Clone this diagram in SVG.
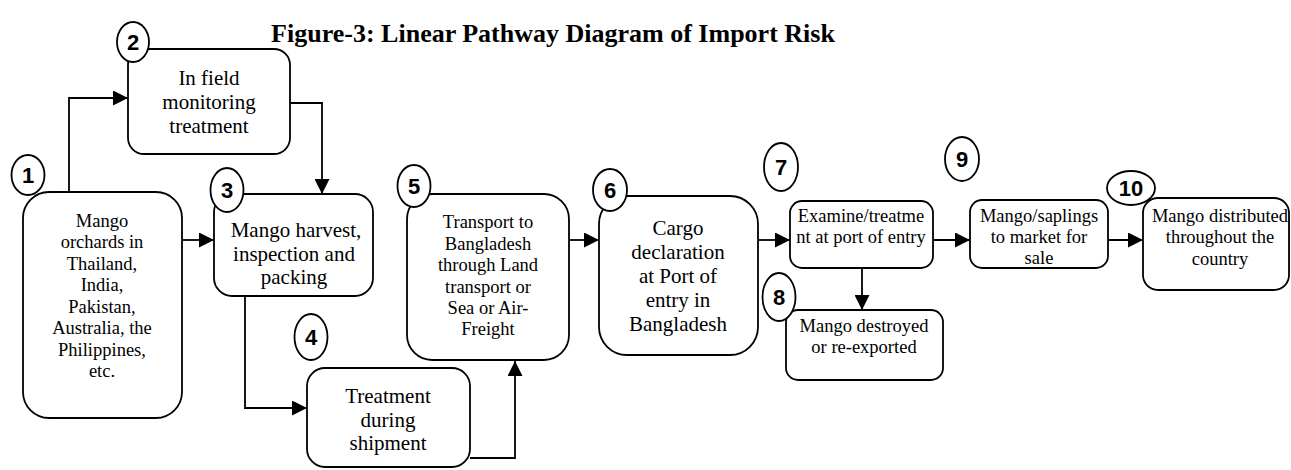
<svg xmlns="http://www.w3.org/2000/svg" width="1291" height="470" viewBox="0 0 1291 470">
<style>
.box{fill:#fff;stroke:#000;stroke-width:1.8}
.num{fill:#fff;stroke:#000;stroke-width:1.8}
.nt{font-family:'Liberation Sans',Arial,sans-serif;font-weight:bold;font-size:22px;text-anchor:middle;fill:#000}
.lbl{font-family:'Liberation Serif','Times New Roman',serif;text-anchor:middle;fill:#000}
.s18{font-size:18.5px}
.s21{font-size:21px}
.conn{fill:none;stroke:#000;stroke-width:1.8}
.title{font-family:'Liberation Serif','Times New Roman',serif;font-weight:bold;font-size:26px;text-anchor:middle;fill:#000}
</style>
<defs>
<marker id="arr" markerUnits="userSpaceOnUse" markerWidth="16" markerHeight="15" refX="15" refY="7.5" orient="auto">
<path d="M0,0 L15,7.5 L0,15 z" fill="#000"/>
</marker>
</defs>
<rect width="1291" height="470" fill="#fff"/>
<text class="title" x="553" y="42">Figure-3: Linear Pathway Diagram of Import Risk</text>

<g id="connectors">
<path class="conn" d="M69,192 V98 H128" marker-end="url(#arr)"/>
<path class="conn" d="M290,103 H322 V194" marker-end="url(#arr)"/>
<path class="conn" d="M182,240 H214" marker-end="url(#arr)"/>
<path class="conn" d="M245,296 V408 H307" marker-end="url(#arr)"/>
<path class="conn" d="M470,458 H515 V361" marker-end="url(#arr)"/>
<path class="conn" d="M569,240 H599" marker-end="url(#arr)"/>
<path class="conn" d="M758,240 H790" marker-end="url(#arr)"/>
<path class="conn" d="M862,268 V310" marker-end="url(#arr)"/>
<path class="conn" d="M933,240 H970" marker-end="url(#arr)"/>
<path class="conn" d="M1108,240 H1143" marker-end="url(#arr)"/>
</g>

<g id="node1" font-family="Liberation Serif, serif">
<rect class="box" x="23" y="192" width="159" height="226" rx="26"/>
<text class="lbl s18" x="102" y="227">Mango</text>
<text class="lbl s18" x="102" y="248">orchards in</text>
<text class="lbl s18" x="102" y="270">Thailand,</text>
<text class="lbl s18" x="102" y="291">India,</text>
<text class="lbl s18" x="102" y="313">Pakistan,</text>
<text class="lbl s18" x="102" y="334">Australia, the</text>
<text class="lbl s18" x="102" y="356">Philippines,</text>
<text class="lbl s18" x="102" y="377">etc.</text>
<ellipse class="num" cx="28" cy="175" rx="16.5" ry="20"/>
<text class="nt" x="28" y="183">1</text>
</g>

<g id="node2" font-family="Liberation Serif, serif">
<rect class="box" x="128" y="49" width="162" height="105" rx="16"/>
<text class="lbl s21" x="209" y="85">In field</text>
<text class="lbl s21" x="209" y="109">monitoring</text>
<text class="lbl s21" x="209" y="133">treatment</text>
<ellipse class="num" cx="133" cy="42" rx="16" ry="20"/>
<text class="nt" x="133" y="50">2</text>
</g>

<g id="node3" font-family="Liberation Serif, serif">
<rect class="box" x="214" y="194" width="159" height="102" rx="18"/>
<text class="lbl s21" x="296" y="237">Mango harvest,</text>
<text class="lbl s21" x="294" y="261">inspection and</text>
<text class="lbl s21" x="294" y="284">packing</text>
<ellipse class="num" cx="227" cy="190" rx="16.5" ry="22"/>
<text class="nt" x="227" y="198">3</text>
</g>

<g id="node4" font-family="Liberation Serif, serif">
<rect class="box" x="307" y="368" width="163" height="99" rx="18"/>
<text class="lbl s21" x="388" y="403">Treatment</text>
<text class="lbl s21" x="388" y="427">during</text>
<text class="lbl s21" x="388" y="450">shipment</text>
<ellipse class="num" cx="311" cy="337" rx="16.5" ry="23"/>
<text class="nt" x="311" y="345">4</text>
</g>

<g id="node5" font-family="Liberation Serif, serif">
<rect class="box" x="407" y="194" width="162" height="166" rx="25"/>
<text class="lbl s18" x="488" y="228">Transport to</text>
<text class="lbl s18" x="488" y="250">Bangladesh</text>
<text class="lbl s18" x="488" y="271">through Land</text>
<text class="lbl s18" x="488" y="293">transport or</text>
<text class="lbl s18" x="488" y="314">Sea or Air-</text>
<text class="lbl s18" x="488" y="335">Freight</text>
<ellipse class="num" cx="414" cy="186" rx="16.5" ry="21"/>
<text class="nt" x="414" y="194">5</text>
</g>

<g id="node6" font-family="Liberation Serif, serif">
<rect class="box" x="599" y="196" width="159" height="159" rx="28"/>
<text class="lbl s21" x="678" y="235">Cargo</text>
<text class="lbl s21" x="678" y="259">declaration</text>
<text class="lbl s21" x="678" y="283">at Port of</text>
<text class="lbl s21" x="678" y="307">entry in</text>
<text class="lbl s21" x="678" y="331">Bangladesh</text>
<ellipse class="num" cx="610" cy="190" rx="17" ry="21"/>
<text class="nt" x="610" y="198">6</text>
</g>

<g id="node7" font-family="Liberation Serif, serif">
<rect class="box" x="790" y="201" width="143" height="67" rx="12"/>
<text class="lbl s18" x="861" y="222">Examine/treatme</text>
<text class="lbl s18" x="861" y="243">nt at port of entry</text>
<ellipse class="num" cx="781" cy="167" rx="17" ry="24"/>
<text class="nt" x="781" y="175">7</text>
</g>

<g id="node8" font-family="Liberation Serif, serif">
<rect class="box" x="786" y="310" width="157" height="70" rx="12"/>
<text class="lbl s18" x="864" y="332">Mango destroyed</text>
<text class="lbl s18" x="864" y="353">or re-exported</text>
<ellipse class="num" cx="779" cy="297" rx="16.5" ry="24"/>
<text class="nt" x="779" y="305">8</text>
</g>

<g id="node9" font-family="Liberation Serif, serif">
<rect class="box" x="970" y="200" width="138" height="68" rx="12"/>
<text class="lbl s18" x="1039" y="222">Mango/saplings</text>
<text class="lbl s18" x="1039" y="243">to market for</text>
<text class="lbl s18" x="1039" y="264">sale</text>
<ellipse class="num" cx="962" cy="159" rx="17" ry="22"/>
<text class="nt" x="962" y="167">9</text>
</g>

<g id="node10" font-family="Liberation Serif, serif">
<rect class="box" x="1143" y="198" width="146" height="92" rx="15"/>
<text class="lbl s18" x="1220" y="222">Mango distributed</text>
<text class="lbl s18" x="1220" y="243">throughout the</text>
<text class="lbl s18" x="1220" y="265">country</text>
<ellipse class="num" cx="1131" cy="188" rx="24" ry="17"/>
<text class="nt" x="1131" y="196">10</text>
</g>
</svg>
